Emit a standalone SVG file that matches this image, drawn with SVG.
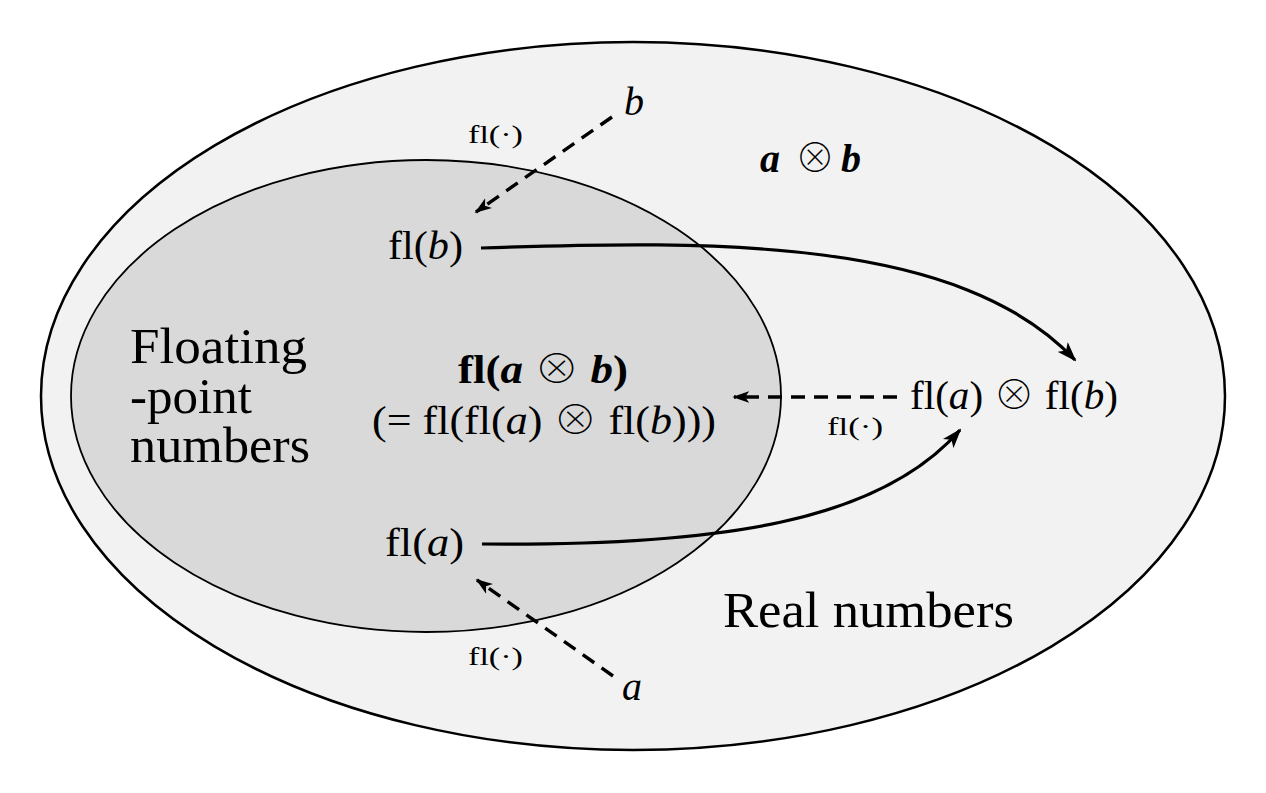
<svg xmlns="http://www.w3.org/2000/svg" width="1266" height="793" viewBox="0 0 1266 793">
<style>
text{font-family:"Liberation Serif","DejaVu Serif",serif;fill:#000}
.lbl{font-size:40px}
.sm{font-size:26px}
.big{font-size:51px}
.it{font-style:italic}
.bd{font-weight:bold}
.ot{font-family:"Noto Sans CJK SC","DejaVu Sans",sans-serif;font-weight:100;font-style:normal}
.sol{fill:none;stroke:#000;stroke-width:3.2;marker-end:url(#ah)}
.dsh{fill:none;stroke:#000;stroke-width:3.4;stroke-dasharray:14 9;marker-end:url(#ahs)}
</style>
<defs>
<marker id="ah" viewBox="0 0 20 14" refX="18" refY="7" markerWidth="20" markerHeight="14" markerUnits="userSpaceOnUse" orient="auto">
<path d="M0,0 L20,7 L0,14 L5,7 z" fill="#000"/>
</marker>
<marker id="ahs" viewBox="0 0 20 14" refX="18" refY="7" markerWidth="17" markerHeight="13" markerUnits="userSpaceOnUse" orient="auto">
<path d="M0,0 L20,7 L0,14 L5,7 z" fill="#000"/>
</marker>
</defs>
<g id="real-numbers">
<ellipse cx="633" cy="396" rx="592" ry="354" fill="#f2f2f2" stroke="#000" stroke-width="2.5"/>
<text class="big" x="723" y="627" textLength="291" lengthAdjust="spacingAndGlyphs">Real numbers</text>
</g>
<g id="floating-point">
<ellipse cx="426" cy="396" rx="355" ry="236" fill="#d9d9d9" stroke="#000" stroke-width="1.8"/>
<text class="big" x="130" y="363" textLength="177" lengthAdjust="spacingAndGlyphs">Floating</text>
<text class="big" x="130" y="413">-point</text>
<text class="big" x="130" y="462" textLength="180" lengthAdjust="spacingAndGlyphs">numbers</text>
</g>
<g id="connectors">
<path class="dsh" d="M612,117 L476,212"/>
<path class="dsh" d="M897,397 L734,397"/>
<path class="dsh" d="M613,676 L477,580"/>
<path class="sol" d="M481,248 C720,240 960,238 1075,360"/>
<path class="sol" d="M482,544 C720,546 880,522 960,430"/>
<text class="sm" x="468" y="143" textLength="55" lengthAdjust="spacingAndGlyphs">fl(·)</text>
<text class="sm" x="827" y="435" textLength="56" lengthAdjust="spacingAndGlyphs">fl(·)</text>
<text class="sm" x="468" y="665" textLength="55" lengthAdjust="spacingAndGlyphs">fl(·)</text>
</g>
<g id="node-b">
<text class="lbl it" x="624" y="115">b</text>
</g>
<g id="node-a">
<text class="lbl it" x="622" y="700">a</text>
</g>
<g id="node-aotimesb">
<text class="lbl" x="760" y="172"><tspan class="it bd">a</tspan><tspan x="795" class="ot">⊗</tspan><tspan x="841" class="it bd">b</tspan></text>
</g>
<g id="node-flb">
<text class="lbl" x="388" y="259" textLength="75" lengthAdjust="spacingAndGlyphs">fl(<tspan class="it">b</tspan>)</text>
</g>
<g id="node-fla">
<text class="lbl" x="385" y="556" textLength="79" lengthAdjust="spacingAndGlyphs">fl(<tspan class="it">a</tspan>)</text>
</g>
<g id="node-flaotimesb">
<text class="lbl bd" x="458" y="383" textLength="170" lengthAdjust="spacingAndGlyphs">fl(<tspan class="it">a</tspan> <tspan class="ot">⊗</tspan> <tspan class="it">b</tspan>)</text>
<text class="lbl" x="372" y="434" textLength="344" lengthAdjust="spacingAndGlyphs">(= fl(fl(<tspan class="it">a</tspan>) <tspan class="ot">⊗</tspan> fl(<tspan class="it">b</tspan>)))</text>
</g>
<g id="node-fla-otimes-flb">
<text class="lbl" x="910" y="409" textLength="208" lengthAdjust="spacingAndGlyphs">fl(<tspan class="it">a</tspan>) <tspan class="ot">⊗</tspan> fl(<tspan class="it">b</tspan>)</text>
</g>
</svg>
